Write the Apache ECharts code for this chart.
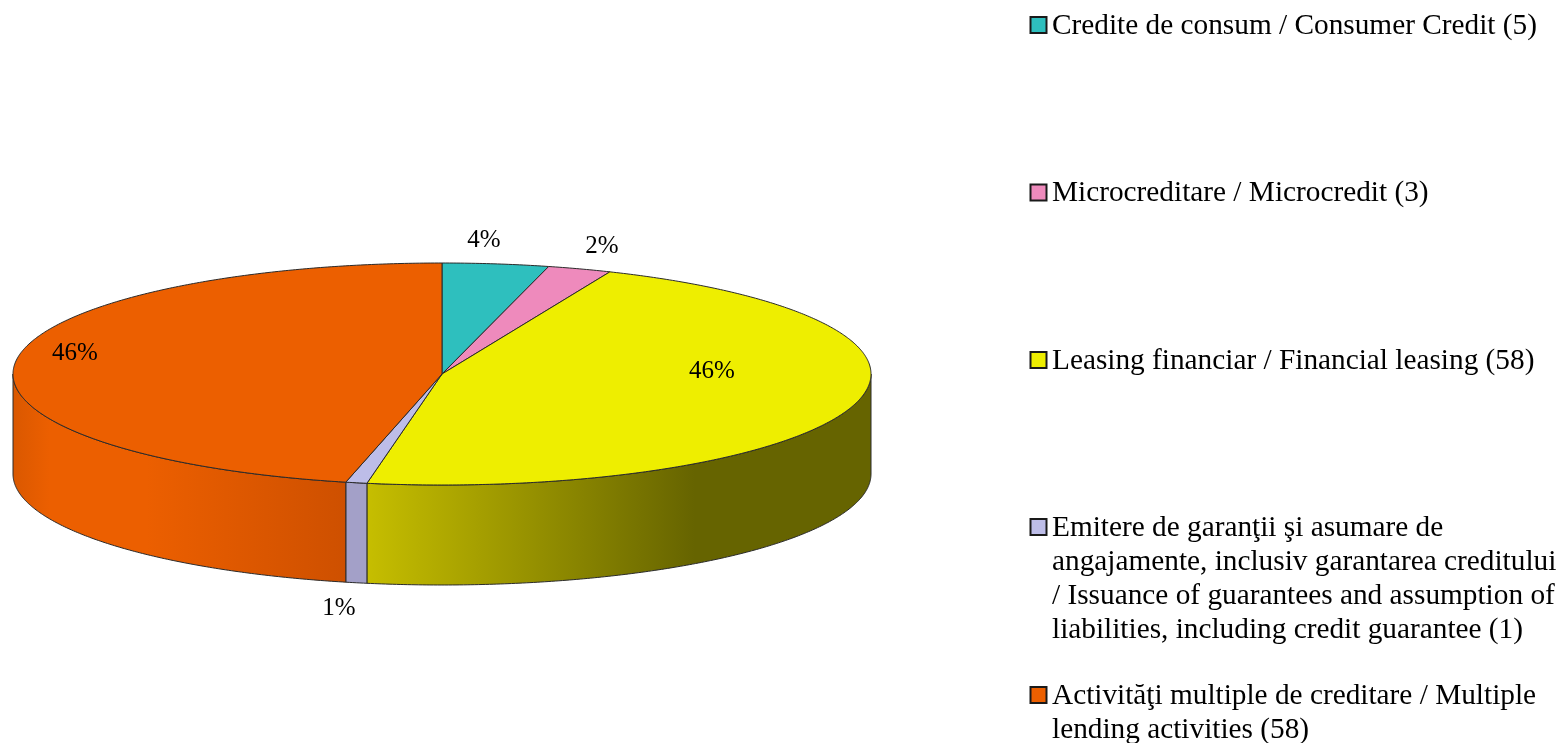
<!DOCTYPE html>
<html>
<head>
<meta charset="utf-8">
<style>html,body{margin:0;padding:0;background:#fff}#chart{width:1561px;height:743px}</style>
<script src="https://cdn.jsdelivr.net/npm/echarts@6/dist/echarts.min.js"></script>
</head>
<body>
<div id="chart"></div>
<script>
const categories = [
  "Credite de consum / Consumer Credit (5)",
  "Microcreditare / Microcredit (3)",
  "Leasing financiar / Financial leasing (58)",
  "Emitere de garanţii şi asumare de\nangajamente, inclusiv garantarea creditului\n/ Issuance of guarantees and assumption of\nliabilities, including credit guarantee (1)",
  "Activităţi multiple de creditare / Multiple\nlending activities (58)"
];
const values = [5, 3, 58, 1, 58];
const topColors = ["#2EBFBE", "#EE8ABC", "#EEEE00", "#BDBDE8", "#EC5F00"];
const wallStops = [
  null,
  null,
  [[0, "#C6BE00"], [0.65, "#666400"], [1, "#666400"]],
  [[0, "#A3A0C8"], [1, "#A3A0C8"]],
  [[0, "#CE5000"], [0.60, "#EC5F00"], [0.89, "#EC5F00"], [1, "#DA5800"]]
];
const labelCenters = [[484, 240], [602, 246], [712, 371], [339, 608], [75, 353]];
const legendTops = [25, 192.5, 360, 527, 695];

const total = values.reduce((a, b) => a + b, 0);
const CX = 442, CY = 374, RX = 429, RY = 111, DEPTH = 100;
const FONT = '"Liberation Serif","Times New Roman",serif';
const EDGE = "#2a2a2a";

function pt(deg, dy) {
  const r = deg * Math.PI / 180;
  return [CX + RX * Math.sin(r), CY - RY * Math.cos(r) + (dy || 0)];
}
function arc(a0, a1, dy) {
  const pts = [];
  const n = Math.max(2, Math.ceil(Math.abs(a1 - a0) * 2));
  for (let i = 0; i <= n; i++) pts.push(pt(a0 + (a1 - a0) * i / n, dy));
  return pts;
}
function startAngle(i) {
  let s = 0;
  for (let k = 0; k < i; k++) s += values[k];
  return s / total * 360;
}

function renderSlice(params, api) {
  const i = params.dataIndex;
  const v = api.value(0);
  const a0 = startAngle(i), a1 = a0 + v / total * 360;
  const children = [];
  const w0 = Math.max(a0, 90), w1 = Math.min(a1, 270);
  if (w1 > w0) {
    const top = arc(w0, w1, 0);
    const bottom = arc(w1, w0, DEPTH);
    const xs = top.map(p => p[0]);
    const minX = Math.min.apply(null, xs), maxX = Math.max.apply(null, xs);
    // The wall gradient runs outward from the front edge of the pie.
    const x0 = i === 2 ? minX : maxX, x1 = i === 2 ? maxX : minX;
    children.push({
      type: "polygon",
      shape: { points: top.concat(bottom) },
      style: {
        fill: {
          type: "linear", x: x0, y: 0, x2: x1, y2: 0, global: true,
          colorStops: wallStops[i].map(s => ({ offset: s[0], color: s[1] }))
        },
        stroke: EDGE, lineWidth: 1
      },
      z2: 1
    });
  }
  children.push({
    type: "polygon",
    shape: { points: [[CX, CY]].concat(arc(a0, a1, 0)) },
    style: { fill: topColors[i], stroke: EDGE, lineWidth: 1 },
    z2: 2
  });
  children.push({
    type: "text",
    style: {
      text: Math.round(v / total * 100) + "%",
      x: labelCenters[i][0], y: labelCenters[i][1],
      align: "center", verticalAlign: "middle",
      font: "25px " + FONT, fill: "#000"
    },
    z2: 3
  });
  return { type: "group", children: children };
}

function renderLegend(params, api) {
  const i = params.dataIndex;
  const y = legendTops[i];
  return {
    type: "group",
    children: [
      {
        type: "rect",
        shape: { x: 1030.5, y: y - 8, width: 16, height: 16 },
        style: { fill: topColors[i], stroke: "#1a1a1a", lineWidth: 2 }
      },
      {
        type: "text",
        style: {
          text: categories[i], x: 1052, y: y - 16,
          align: "left", verticalAlign: "top",
          font: "29.3px " + FONT, lineHeight: 34, fill: "#000"
        }
      }
    ]
  };
}

const chart = echarts.init(document.getElementById("chart"), null, { renderer: "canvas" });
chart.setOption({
  animation: false,
  backgroundColor: "#fff",
  series: [
    { type: "custom", coordinateSystem: "none", renderItem: renderSlice, data: values.map(v => [v]) },
    { type: "custom", coordinateSystem: "none", renderItem: renderLegend, data: categories.map((c, i) => [values[i]]) }
  ]
});
</script>
</body>
</html>
